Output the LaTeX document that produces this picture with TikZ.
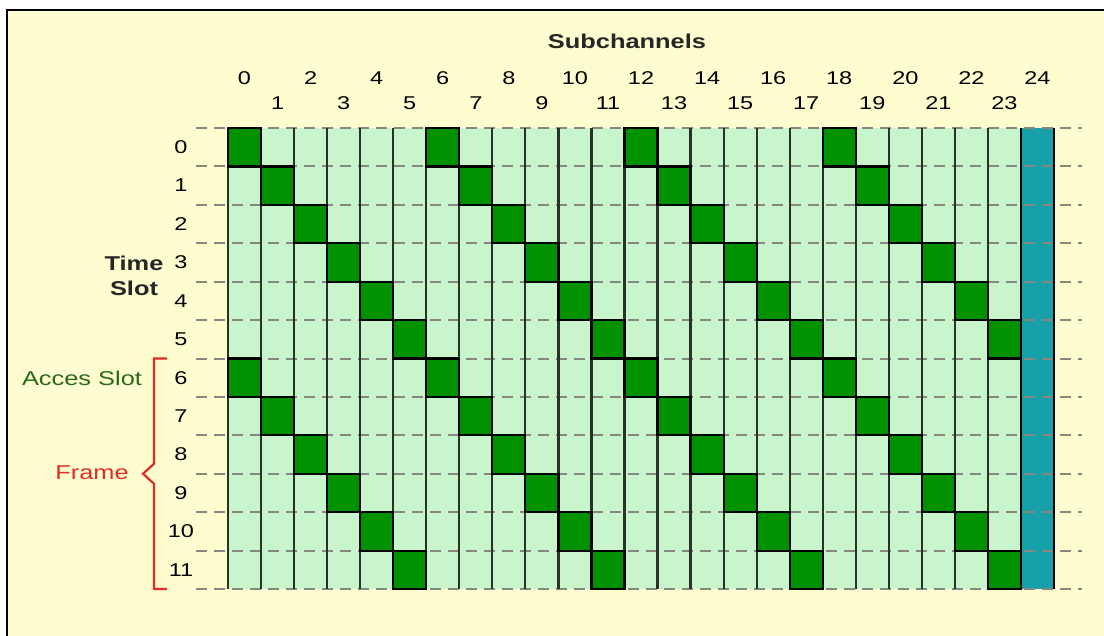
\documentclass[tikz,border=0pt]{standalone}
\usepackage{fontspec}
\setmainfont{Liberation Sans}[FakeStretch=1.27]
\definecolor{bg}{RGB}{255,252,208}
\definecolor{lightg}{RGB}{200,245,204}
\definecolor{darkg}{RGB}{0,145,0}
\definecolor{tealcol}{RGB}{22,160,170}
\definecolor{accgreen}{RGB}{40,105,30}
\definecolor{framered}{RGB}{225,45,40}
\definecolor{dashgrey}{RGB}{135,135,130}
\definecolor{colline}{RGB}{40,50,40}
\begin{document}
\begin{tikzpicture}[x=1pt,y=-1pt,
  numlabel/.style={inner sep=0pt, font=\fontsize{18.5}{20}\selectfont, text=black},
  boldlabel/.style={inner sep=0pt, font=\fontsize{20}{25}\selectfont\bfseries, text=black!85},
  dashrow/.style={dashgrey, line width=2pt, dash pattern=on 11pt off 7pt},
  colrule/.style={colline, line width=2.2pt},
  slotcell/.style={fill=darkg, draw=black, line width=2.2pt},
  bracestyle/.style={framered, line width=2.2pt, line join=miter}]
\useasboundingbox (0,0) rectangle (1104,636);
\fill[white] (0,0) rectangle (1104,636);
\fill[bg] (7,10) rectangle (1104,636);
\draw[line width=2pt] (7,636) -- (7,10) -- (1104,10);
\def\xo{228}\def\cw{33.04}\def\yo{128}\def\rh{38.42}
% base fills
\fill[lightg] (\xo,\yo) rectangle ({\xo+24*\cw},{\yo+12*\rh});
\fill[tealcol] ({\xo+24*\cw},\yo) rectangle ({\xo+25*\cw},{\yo+12*\rh});
% dashed row lines
\foreach \r in {0,...,12}
  \draw[dashrow] (196,{\yo+\r*\rh}) -- (1082,{\yo+\r*\rh});
% column rules
\foreach \c in {0,...,23}
  \draw[colrule] ({\xo+\c*\cw},\yo) -- ({\xo+\c*\cw},{\yo+12*\rh});
\draw[black, line width=2.4pt] ({\xo+24*\cw},\yo) -- ({\xo+24*\cw},{\yo+12*\rh});
\draw[black, line width=2.4pt] ({\xo+25*\cw},\yo) -- ({\xo+25*\cw},{\yo+12*\rh});
% access slots
\foreach \r in {0,...,11}
  \foreach \k in {0,...,3}{
    \pgfmathtruncatemacro{\c}{mod(\r,6)+6*\k}
    \draw[slotcell] ({\xo+\c*\cw},{\yo+\r*\rh}) rectangle ({\xo+(\c+1)*\cw},{\yo+(\r+1)*\rh});
  }
% column labels
\foreach \c in {0,...,24}{
  \pgfmathsetmacro{\ly}{mod(\c,2)==0 ? 78 : 103}
  \node[numlabel] (col\c) at ({\xo+(\c+0.5)*\cw},\ly) {\c};
}
% row labels
\foreach \r in {0,...,11}
  \node[numlabel] (row\r) at (181,{\yo+(\r+0.5)*\rh}) {\r};
\node[boldlabel] (sub) at (627,41) {Subchannels};
\node[boldlabel, align=center] (ts) at (134,276) {Time\\Slot};
\node[inner sep=0pt, font=\fontsize{20}{24}\selectfont, text=accgreen] (acc) at (82,378) {Acces Slot};
\node[inner sep=0pt, font=\fontsize{20}{24}\selectfont, text=framered] (frame) at (92,473) {Frame};
% brace
\coordinate (btop) at (167,{\yo+6*\rh});
\coordinate (bbot) at (167,{\yo+12*\rh});
\coordinate (btip) at (143,{\yo+9*\rh});
\draw[bracestyle] (btop) -- (154,{\yo+6*\rh}) -- (154,{\yo+9*\rh-10}) -- (btip) -- (154,{\yo+9*\rh+10}) -- (154,{\yo+12*\rh}) -- (bbot);
\end{tikzpicture}
\end{document}
